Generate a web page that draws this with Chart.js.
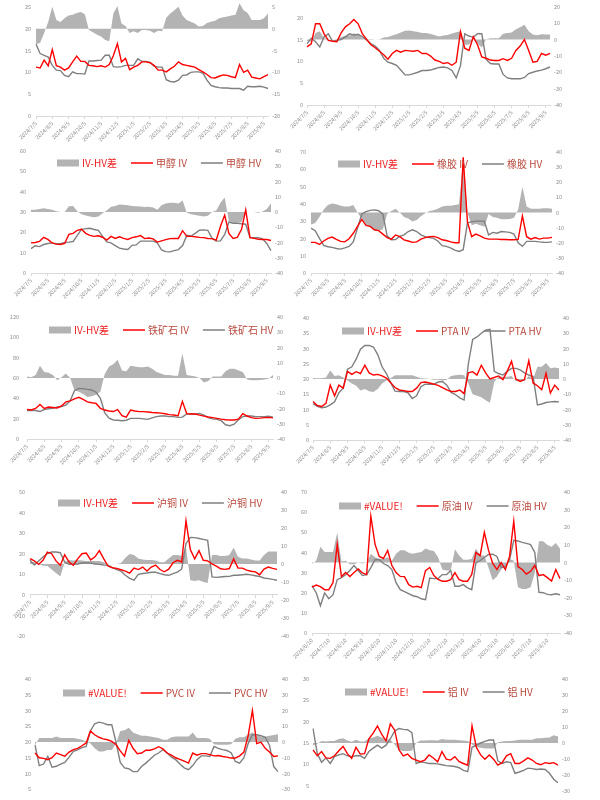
<!DOCTYPE html>
<html><head><meta charset="utf-8">
<script src="https://cdn.jsdelivr.net/npm/chart.js@4.4.0/dist/chart.umd.min.js"></script>
<style>
html,body{margin:0;padding:0;background:#fff;width:600px;height:800px;overflow:hidden;position:relative;}
canvas{position:absolute;}
</style></head><body>
<script>
const datesA = ["2024/7/5","2024/7/12","2024/7/19","2024/7/26","2024/8/5","2024/8/12","2024/8/19","2024/8/26","2024/9/5","2024/9/12","2024/9/19","2024/9/26","2024/10/5","2024/10/12","2024/10/19","2024/10/26","2024/11/5","2024/11/12","2024/11/19","2024/11/26","2024/12/5","2024/12/12","2024/12/19","2024/12/26","2025/1/5","2025/1/12","2025/1/19","2025/1/26","2025/2/5","2025/2/12","2025/2/19","2025/2/26","2025/3/5","2025/3/12","2025/3/19","2025/3/26","2025/4/5","2025/4/12","2025/4/19","2025/4/26","2025/5/5","2025/5/12","2025/5/19","2025/5/26","2025/6/5","2025/6/12","2025/6/19","2025/6/26","2025/7/5","2025/7/12","2025/7/19","2025/7/26","2025/8/5","2025/8/12","2025/8/19","2025/8/26","2025/9/5","2025/9/12"];
const datesB = ["2024/6/10","2024/6/17","2024/6/24","2024/7/1","2024/7/10","2024/7/17","2024/7/24","2024/8/1","2024/8/10","2024/8/17","2024/8/24","2024/9/1","2024/9/10","2024/9/17","2024/9/24","2024/10/1","2024/10/10","2024/10/17","2024/10/24","2024/11/1","2024/11/10","2024/11/17","2024/11/24","2024/12/1","2024/12/10","2024/12/17","2024/12/24","2025/1/1","2025/1/10","2025/1/17","2025/1/24","2025/2/1","2025/2/10","2025/2/17","2025/2/24","2025/3/1","2025/3/10","2025/3/17","2025/3/24","2025/4/1","2025/4/10","2025/4/17","2025/4/24","2025/5/1","2025/5/10","2025/5/17","2025/5/24","2025/6/1","2025/6/10","2025/6/17","2025/6/24","2025/7/1","2025/7/10","2025/7/17","2025/7/24","2025/8/1","2025/8/10","2025/8/17","2025/8/24","2025/9/1"];

// chart 1 (top left)
const c1_iv = [11.2,11.0,12.8,11.5,15.2,11.5,11.2,10.5,11.0,12.4,13.7,12.5,12.5,11.6,11.5,11.3,11.5,11.2,11.8,13.8,16.6,12.4,13.2,10.6,11.2,11.6,12.4,12.4,12.2,11.6,10.5,10.5,10.1,10.8,11.4,12.4,11.8,11.6,11.4,11.2,10.6,10.1,9.5,8.8,8.7,9.1,9.4,9.3,9.0,8.8,11.8,10.0,10.5,8.9,8.7,8.5,9.0,9.5];
const c1_hv = [16.5,14.3,13.9,13.5,11.6,10.5,10.4,9.3,9.0,10.1,9.7,9.7,9.6,12.6,12.6,12.7,12.8,13.9,13.9,11.3,11.2,11.3,11.6,11.6,11.6,13.1,12.5,12.5,12.3,11.4,11.2,11.2,8.3,7.9,7.8,8.2,9.3,9.4,10.0,10.1,10.1,9.8,8.2,7.0,6.7,6.5,6.4,6.4,6.3,6.3,6.3,5.9,6.8,6.7,6.7,6.8,6.6,6.3];
const c1_diff = [-3.5,-3.3,-1.0,1.5,5.0,2.0,1.5,2.4,3.0,3.2,3.6,3.8,3.3,-0.3,-0.8,-1.4,-1.8,-2.6,-2.9,3.5,5.2,1.2,0.6,-1.0,-0.6,-1.0,-0.3,-0.3,-0.5,-1.0,-0.5,-0.6,2.5,3.5,4.2,5.0,3.0,2.0,1.6,1.2,0.5,0.6,1.3,1.6,1.8,2.4,2.6,2.8,3.0,3.2,5.8,4.2,3.6,2.0,2.0,2.0,2.4,3.5];
// chart 2 (top right)
const c2_iv = [13.3,14.0,18.6,18.6,16.3,14.8,14.6,14.5,16.5,17.9,18.6,19.6,18.6,16.3,15.0,13.8,13.1,12.3,11.5,10.5,11.8,12.5,12.1,12.5,12.4,12.3,12.5,11.8,11.8,11.2,10.3,10.0,9.5,9.7,9.1,9.8,16.8,13.0,12.5,15.6,13.8,11.0,10.7,10.3,10.2,10.2,10.6,10.2,10.7,12.5,13.5,15.0,12.5,9.8,10.0,11.8,11.4,11.8];
const c2_hv = [14.0,15.3,14.5,13.3,15.6,16.3,14.6,14.8,15.0,15.6,16.3,16.0,16.2,15.6,14.9,14.0,13.5,12.5,10.7,9.8,9.5,9.1,8.0,6.9,6.9,7.2,7.5,7.9,7.9,8.0,8.3,8.6,8.7,8.5,7.9,6.2,9.0,16.3,15.8,15.5,16.3,16.3,10.5,9.5,9.4,9.4,7.0,6.2,6.0,6.0,6.0,6.3,7.2,7.5,7.8,8.0,8.3,8.7];
const c2_diff = [-0.7,-1.3,4.0,5.0,0.7,0.3,0,0.3,1.5,2.3,2.5,3.8,3.0,0.8,0.2,0.3,0,0.2,1.2,1.5,2.4,3.2,4.2,5.3,5.5,5.0,4.6,4.0,3.9,3.4,2.6,1.9,2.5,2.8,3.6,4.5,5.0,-3.3,-3.0,0,-2.5,-5.0,0.2,0.8,0.8,0.8,3.5,3.9,4.3,6.2,7.5,9.0,5.0,3.0,2.6,3.2,3.0,3.0];
// 甲醇
const c3_iv = [14.8,15.0,15.5,17.5,16.5,14.8,14.2,14.0,14.5,19.0,19.5,21.0,21.5,19.5,18.5,18.0,18.3,17.6,16.2,18.0,17.0,17.8,17.0,16.5,17.4,17.8,18.4,16.9,17.2,16.8,15.2,15.8,16.4,16.9,17.0,17.0,20.8,18.0,18.0,17.8,17.5,17.4,17.0,16.9,16.2,23.0,28.5,19.5,17.0,17.5,21.5,31.0,17.4,17.0,16.6,16.5,16.5,16.0];
const c3_hv = [12.0,13.4,13.0,14.0,14.5,14.8,14.4,14.4,15.0,15.2,15.5,18.5,21.5,21.8,22.0,21.4,21.0,18.0,15.3,14.8,13.5,12.2,11.8,11.6,13.6,13.8,15.7,15.7,15.7,15.7,14.8,11.3,10.5,10.4,11.0,11.5,13.5,18.5,18.2,19.5,21.0,21.2,21.0,17.0,15.7,15.8,19.0,25.0,24.5,24.5,24.2,24.0,17.5,17.4,17.4,16.8,14.5,11.0];
const c3_diff = [1.5,1.5,2,2.5,2,1.5,0.5,0,0,3.8,4.0,0.5,-1.5,-2.3,-3,-3.4,-3,-0.8,1,3.5,4,5,4.8,4.5,4,3.8,3.6,3.2,3.4,3,1.5,4.5,5.6,6,6,5.5,7.5,-0.5,-1.5,-2,-2.5,-3,-2.5,0,1,6,9.5,-6,-7,-7,-6.5,0,0,0,-0.5,0.3,2,5.5];
// 橡胶
const c4_iv = [17.7,17.7,16.5,18.5,20.0,20.8,19.5,18.3,18.0,19.8,23.0,27.0,31.0,27.5,27.0,25.0,24.5,22.5,20.5,19.6,22.0,21.0,19.2,18.5,17.7,18.0,19.6,20.5,21.0,21.2,20.5,19.2,18.8,18.0,17.5,17.5,67.0,29.6,21.0,22.5,21.5,20.2,19.6,19.6,19.6,19.4,19.4,19.2,19.2,19.4,33.0,21.0,19.6,20.5,19.6,20.2,20.2,20.6];
const c4_hv = [26.0,24.5,20.0,16.0,15.2,14.8,14.2,13.8,14.5,15.4,18.0,26.0,34.0,35.5,36.2,36.5,36.0,34.0,21.5,19.2,19.4,21.2,22.1,24.0,25.0,24.0,22.1,21.0,20.5,20.0,18.5,15.8,15.4,14.5,13.2,12.5,13.5,29.0,29.6,30.0,30.0,30.0,22.0,23.5,23.0,24.0,23.8,23.5,22.5,17.5,15.4,18.3,18.3,18.3,18.0,17.8,17.7,18.0];
const c4_diff = [-8,-7,-3,2,5,6,5.5,4.5,4,4,5,0,-4,-8,-10,-12,-12,-11,-1,1,2.5,0,-3,-4,-6,-5,-2.5,-0.5,1,1.5,2.5,4,4.5,4.5,5,5.5,35,0,-8.5,-7.5,-8.5,-9.5,-1,-3,-3.5,-4.5,-4.5,-4.3,-3.5,2,17,4,2.5,2.5,2.5,2.8,2.8,2.5];
// 铁矿石
const c5_iv = [29.0,28.5,30.0,34.0,30.0,31.5,31.0,30.5,32.5,36.5,37.5,39.5,41.0,39.0,36.5,35.7,35.0,30.2,28.5,27.5,27.0,29.0,23.0,21.5,28.5,27.5,26.9,26.9,26.5,26.0,25.8,25.5,24.8,24.0,23.6,22.8,37.0,25.0,24.6,24.6,23.5,22.5,21.6,21.0,20.3,19.6,19.0,18.7,18.7,19.5,25.0,22.6,21.0,20.3,20.5,21.0,21.3,20.8];
const c5_hv = [27.9,28.0,28.0,27.0,29.0,29.8,30.2,31.5,32.0,33.4,37.5,47.5,49.8,49.5,48.8,48.2,46.0,40.0,26.0,20.5,18.7,18.5,18.0,18.5,20.3,20.3,20.3,19.8,19.3,20.8,22.0,22.6,22.6,22.0,22.0,21.3,21.5,24.6,24.6,24.6,25.2,23.5,21.0,19.8,19.3,18.0,14.0,13.0,14.5,19.0,22.0,22.6,22.6,22.0,22.0,22.0,22.5,21.5];
const c5_diff = [1,0.5,2,8,4,3.5,2,-1.5,0.5,3,0,-8,-9,-10.5,-12.5,-12,-11,-9,2.5,7.5,9,12,5,4.5,8,7.5,7,7,7.5,6,4,3,2,2,1.5,1.5,16,2,1.5,1,0,-3,-2,1,1,1,4.5,6,6,5,4,-1,-1.5,-1.5,-1.3,-1,-0.5,2];
// PTA
const c6_iv = [12.6,11.3,11.0,12.0,18.0,14.5,18.0,17.0,22.5,21.5,22.4,21.8,24.5,22.0,21.3,21.5,21.0,20.3,18.8,17.2,16.4,16.2,15.9,15.9,17.0,18.8,19.0,18.7,18.3,17.9,17.2,16.4,15.9,15.9,16.4,15.2,22.0,22.4,21.3,24.5,22.0,20.0,20.5,21.0,19.8,22.5,25.8,20.0,19.2,19.8,26.0,18.7,17.8,16.5,21.9,15.4,18.0,16.4];
const c6_hv = [11.9,11.0,10.6,10.8,11.5,12.5,15.5,17.0,23.2,24.0,26.5,29.8,31.0,31.0,30.5,28.0,24.0,21.8,18.8,16.0,15.9,15.9,15.5,13.6,14.5,17.5,18.3,18.3,18.3,19.0,19.2,18.0,15.6,14.9,13.8,13.1,25.0,33.0,33.8,35.0,36.0,36.3,22.5,21.8,21.3,22.5,23.5,23.5,23.0,22.0,21.3,20.8,11.5,11.8,12.3,12.5,12.6,12.5];
const c6_diff = [0.7,0.5,0.5,1,5.5,2,2.5,1,-1,-3,-4.5,-7.5,-6.5,-8,-8.5,-6.5,-3,-1,0.5,2.5,2.5,2.5,2.5,2.5,1.5,0.5,0.3,0,-0.5,-0.5,-1,-0.5,2,2.5,2.8,2.5,-3,-10,-11,-12,-14,-15.5,-2,1.5,1.5,1.5,2,-1.5,-1.5,-1.5,2,0,8,8,10.5,7,7.5,7];
// 沪铜
const c7_iv = [17.6,16.5,14.8,16.8,20.8,20.0,16.5,14.4,19.5,16.0,14.4,17.5,20.0,20.3,17.0,18.5,21.5,17.6,14.0,13.2,12.9,12.2,11.5,10.6,13.0,12.3,13.5,11.6,13.5,14.5,12.3,11.2,12.5,15.6,16.8,16.0,36.0,22.0,17.5,21.5,16.8,16.5,15.0,14.0,12.7,12.4,12.8,17.5,13.0,13.0,12.0,11.5,11.2,9.8,12.5,13.5,12.9,12.4];
const c7_hv = [16.8,14.5,16.5,18.4,20.0,20.8,20.8,20.5,16.0,14.8,14.8,15.0,15.5,15.5,15.5,15.0,14.8,14.5,14.4,13.2,12.3,11.5,9.5,8.0,7.1,10.0,10.4,10.6,11.0,11.0,10.3,9.8,9.5,10.3,11.0,12.5,25.0,27.9,27.8,27.4,27.0,26.5,8.7,8.5,8.7,8.9,9.0,9.5,9.5,9.8,10.0,9.7,9.3,8.9,8.2,7.9,7.5,7.1];
const c7_diff = [1.3,1,0,-1,-1,-3,-5,-7,1,2.2,2,2.2,2,1.7,1.7,1.7,1.7,1,0,0,0,0.5,3.5,5.5,5,3,2.5,2.2,2.2,2,1,1,3,5,5,4.5,9,-9,-9.5,-9,-10,-10.5,5,5,4.5,4.5,5,9,4,3,3,2.5,2,2,5,7,7,7];
// 原油
const c8_iv = [22.8,23.8,23.0,21.5,21.5,25.0,44.0,28.0,30.0,28.0,30.0,31.8,29.8,29.0,58.0,44.0,38.0,37.0,41.0,33.5,30.0,28.1,28.0,24.0,22.8,23.2,22.5,31.0,32.5,28.5,26.6,25.7,25.7,26.5,30.0,26.5,25.7,25.7,29.0,40.0,38.4,50.0,41.0,34.5,31.5,35.0,31.5,38.0,55.5,33.0,31.5,29.2,30.6,33.5,28.5,29.0,27.5,25.8,31.5,27.0];
const c8_hv = [23.5,20.0,13.5,19.9,17.0,19.0,26.5,27.5,29.0,31.0,33.5,31.0,28.5,29.0,32.5,36.4,36.5,34.5,33.5,31.5,25.0,21.5,20.5,19.5,18.5,18.0,17.0,16.6,27.3,27.0,27.0,29.0,29.0,31.0,23.2,23.2,24.0,22.4,21.5,34.8,36.0,37.5,39.0,39.1,38.0,32.5,33.0,36.4,46.0,45.7,45.0,44.5,43.9,40.0,20.2,20.0,19.2,19.0,19.5,19.0];
const c8_diff = [-0.7,1,9,6,6,6,17,0.5,1,-1,-1,0,-0.5,0,5,3,2,2,3,1,5,7,7,5.5,5,5.5,6,8,7,6.5,3,-4,-4.5,-4.5,7.5,4,1.5,1.5,2,8,4,4,-3,-10,-8,-4,-2,2,1,-14,-15,-15,-14,-6,12,12,10,9,11,8];
// PVC
const c9_iv = [16.5,15.0,14.8,14.4,15.0,16.5,16.0,15.5,16.8,17.6,18.0,18.8,19.7,23.5,22.3,21.5,21.0,20.7,20.2,19.2,17.2,15.5,20.5,18.0,16.3,16.5,17.4,17.4,17.8,18.5,17.8,16.5,15.8,15.0,14.5,13.9,13.3,16.5,15.8,16.3,16.3,16.0,15.6,15.7,15.4,15.2,14.9,14.9,15.6,16.8,22.0,30.0,19.5,20.0,18.0,16.8,15.4,15.6];
const c9_hv = [19.1,12.5,13.0,15.4,12.0,12.3,13.0,13.5,15.2,17.0,17.5,18.2,18.6,23.5,25.8,26.3,26.0,25.5,25.5,20.0,13.5,11.8,11.5,10.6,10.6,12.2,13.3,14.5,15.8,16.5,17.6,16.5,15.2,14.4,13.0,11.8,11.2,12.5,14.4,15.6,15.6,15.4,18.6,18.0,17.6,17.3,16.6,13.8,13.3,15.0,19.5,22.3,22.3,22.0,21.5,19.0,12.2,10.6];
const c9_diff = [-1.7,2.5,2.6,2.6,2.6,3.5,2.6,2.5,2.5,2.5,2,1.5,0.5,-1,-4,-6,-6,-5,-5,-1,7,7.5,9,6,5,4,4,3.5,3,2.5,1.5,1.5,3,3.5,3.5,3.5,3.5,6,2.5,2.5,2.5,2,-1.5,-1.7,-1.7,-1.7,-1.5,2,3,3,5,6,4,3.5,3.5,4,4.5,5];
// 铝
const c10_iv = [13.4,12.0,13.0,11.5,11.4,12.0,13.2,14.2,12.5,11.4,14.0,12.4,12.5,16.0,17.3,19.0,17.0,15.5,19.5,18.0,13.4,12.0,12.4,11.4,11.0,10.6,11.0,12.2,11.5,10.6,13.0,11.2,11.0,11.8,10.6,10.2,9.8,19.0,14.0,12.2,11.2,12.2,11.2,9.8,10.4,12.0,12.5,10.2,10.2,10.8,11.5,11.0,10.2,9.9,10.4,10.2,10.4,9.8];
const c10_hv = [18.4,12.5,10.5,11.5,10.2,11.8,12.2,12.5,12.0,11.8,12.0,12.0,11.4,13.0,13.8,14.5,13.8,14.5,16.0,17.8,18.4,18.2,18.1,17.4,10.2,10.6,10.4,10.2,10.2,10.1,9.9,9.7,9.6,9.5,9.2,8.6,8.3,14.0,14.5,15.0,15.4,15.7,15.7,10.8,10.2,10.6,10.4,7.9,8.2,8.6,9.1,9.0,8.8,8.9,8.8,7.9,6.5,5.7];
const c10_diff = [-1.5,-0.5,1.2,1,1.2,1.2,2.5,3,1.5,0.8,2,1,1,3,3.5,4.5,3.5,2.5,2,-1,-4.5,-5,-5,-4.8,0,1.5,1.5,1.7,1.7,1.5,2.5,2,2,2,1.7,1.5,1.2,-1,-2.5,-3,-3.5,-3.5,-3.5,0.5,1,1.2,1.2,1.5,2,2,2,2,3,3,3.3,3.5,4.8,4];

const FONT = '"Noto Sans CJK SC","Noto Sans",sans-serif';
const specs = [
  {labels:datesA, tickDay:'5', iv:c1_iv, hv:c1_hv, diff:c1_diff, names:['IV-HV差','豆粕 IV','豆粕 HV'], L:36,R:268,T:-15,B:116, y:[0,30,5], y1:[-20,10,5], lp:5, lg:[57,-6]},
  {labels:datesA, tickDay:'5', iv:c2_iv, hv:c2_hv, diff:c2_diff, names:['IV-HV差','白糖 IV','白糖 HV'], L:307,R:550,T:-26,B:105, y:[0,30,5], y1:[-40,40,10], lp:4, lg:[338,-6]},
  {labels:datesA, tickDay:'5', iv:c3_iv, hv:c3_hv, diff:c3_diff, names:['IV-HV差','甲醇 IV','甲醇 HV'], L:31,R:271,T:151,B:273, y:[0,60,10], y1:[-40,40,10], lp:5, lg:[57,163]},
  {labels:datesA, tickDay:'5', iv:c4_iv, hv:c4_hv, diff:c4_diff, names:['IV-HV差','橡胶 IV','橡胶 HV'], L:311,R:552,T:152,B:273, y:[0,70,10], y1:[-40,40,10], lp:5, lg:[338,164]},
  {labels:datesA, tickDay:'5', iv:c5_iv, hv:c5_hv, diff:c5_diff, names:['IV-HV差','铁矿石 IV','铁矿石 HV'], L:27,R:273,T:317,B:439, y:[0,120,20], y1:[-40,40,10], lp:8, lg:[49,330]},
  {labels:datesA, tickDay:'5', iv:c6_iv, hv:c6_hv, diff:c6_diff, names:['IV-HV差','PTA IV','PTA HV'], L:313,R:559,T:318,B:440, y:[0,40,5], y1:[-40,40,10], lp:4, lg:[342,331]},
  {labels:datesA, tickDay:'5', iv:c7_iv, hv:c7_hv, diff:c7_diff, names:['IV-HV差','沪铜 IV','沪铜 HV'], L:30,R:277,T:492,B:636, y:[-20,50,10], y1:[-40,40,10], lp:5, lg:[58,503], xAt0:true},
  {labels:datesB, tickDay:'10', iv:c8_iv, hv:c8_hv, diff:c8_diff, names:['#VALUE!','原油 IV','原油 HV'], L:312,R:560,T:492,B:633, y:[0,70,10], y1:[-40,40,10], lp:5, lg:[339,506]},
  {labels:datesA, tickDay:'5', iv:c9_iv, hv:c9_hv, diff:c9_diff, names:['#VALUE!','PVC IV','PVC HV'], L:35,R:278,T:679,B:805, y:[0,40,5], y1:[-40,40,10], lp:4, lg:[63,693]},
  {labels:datesA, tickDay:'5', iv:c10_iv, hv:c10_hv, diff:c10_diff, names:['#VALUE!','铝 IV','铝 HV'], L:313,R:558,T:679,B:807, y:[0,30,5], y1:[-40,40,10], lp:4, lg:[345,692]}
];

const excelLegend = {
  id: 'excelLegend',
  afterDatasetsDraw(chart, args, o) {
    const ctx = chart.ctx;
    ctx.save();
    ctx.font = '10px ' + FONT;
    ctx.textBaseline = 'middle';
    ctx.textAlign = 'left';
    let x = o.x; const y = o.y;
    chart.data.datasets.forEach((ds, i) => {
      if (i === 0) {
        ctx.fillStyle = ds.backgroundColor;
        ctx.fillRect(x, y - 3.5, 22, 7);
      } else {
        ctx.strokeStyle = ds.borderColor;
        ctx.lineWidth = 1.5;
        ctx.beginPath(); ctx.moveTo(x, y); ctx.lineTo(x + 22, y); ctx.stroke();
      }
      x += 25;
      ctx.fillStyle = i === 0 ? '#ee1f1f' : '#b8473b';
      ctx.fillText(ds.label, x, y);
      x += ctx.measureText(ds.label).width + 14;
    });
    ctx.restore();
  }
};

function build(c) {
  const wL = 30, wR = 26, mt = 8;
  const hX = c.xAt0 ? 4 : 42;
  const W = c.R - c.L + wL + wR;
  const H = c.B - c.T + mt + hX;
  const ox = c.L - wL, oy = c.T - mt;
  const cv = document.createElement('canvas');
  cv.width = W; cv.height = H;
  cv.style.left = ox + 'px'; cv.style.top = oy + 'px';
  cv.style.width = W + 'px'; cv.style.height = H + 'px';
  document.body.appendChild(cv);
  const tickFont = {size: 5.5, family: FONT};
  const isMonth = (s) => s && String(s).split('/')[2] === c.tickDay;
  new Chart(cv, {
    type: 'line',
    data: {
      labels: c.labels,
      datasets: [
        {label: c.names[0], data: c.diff, yAxisID: 'y1', fill: 'origin', backgroundColor: '#b3b3b3', borderColor: '#b3b3b3', borderWidth: 0, pointRadius: 0, order: 3},
        {label: c.names[1], data: c.iv, yAxisID: 'y', borderColor: '#ff0000', backgroundColor: '#ff0000', borderWidth: 1.4, pointRadius: 0, fill: false, order: 1},
        {label: c.names[2], data: c.hv, yAxisID: 'y', borderColor: '#7f7f7f', backgroundColor: '#7f7f7f', borderWidth: 1.4, pointRadius: 0, fill: false, order: 2}
      ]
    },
    options: {
      responsive: false, animation: false, devicePixelRatio: 1,
      layout: {padding: {top: mt, left: 0, right: 0, bottom: c.xAt0 ? hX : 0}},
      elements: {line: {tension: 0}},
      plugins: {
        legend: {display: false}, tooltip: {enabled: false},
        excelLegend: {x: c.lg[0] - ox, y: c.lg[1] - oy}
      },
      scales: {
        x: {
          type: 'category', position: c.xAt0 ? {y: 0} : 'bottom', offset: false,
          grid: {display: true, drawOnChartArea: false, drawTicks: true, tickLength: 3,
                 color: '#d9d9d9',
                 tickColor: (ctx) => (ctx.tick && ctx.tick.label) ? '#d9d9d9' : 'rgba(0,0,0,0)'},
          border: {display: true, color: '#d9d9d9'},
          ticks: {autoSkip: false, maxRotation: 45, minRotation: 45, padding: 1, color: '#8c8c8c', font: tickFont,
            callback: function (v) { const s = this.getLabelForValue(v); return isMonth(s) ? s : null; }},
          afterFit: (s) => { if (!c.xAt0) s.height = hX; s.paddingLeft = 0; s.paddingRight = 0; }
        },
        y: {
          position: 'left', min: c.y[0], max: c.y[1],
          ticks: {stepSize: c.y[2], padding: c.lp, color: '#8c8c8c', font: tickFont},
          grid: {display: false, drawTicks: false}, border: {display: false},
          afterFit: (s) => { s.width = wL; s.paddingTop = 0; s.paddingBottom = 0; }
        },
        y1: {
          position: 'right', min: c.y1[0], max: c.y1[1],
          ticks: {stepSize: c.y1[2], padding: 4, color: '#8c8c8c', font: tickFont},
          grid: {display: false, drawTicks: false}, border: {display: false},
          afterFit: (s) => { s.width = wR; s.paddingTop = 0; s.paddingBottom = 0; }
        }
      }
    },
    plugins: [excelLegend]
  });
}
specs.forEach(build);
</script>
</body></html>
